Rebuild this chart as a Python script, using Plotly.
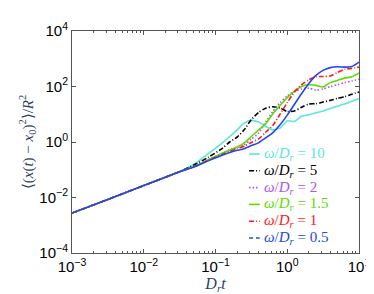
import plotly.graph_objects as go

# time grid (D_r t)
t = [0.001, 0.00316, 0.01, 0.0316, 0.0501, 0.0794, 0.126, 0.158, 0.2, 0.251,
     0.316, 0.398, 0.501, 0.631, 0.794, 1.0, 1.26, 1.58, 2.0, 2.51,
     3.16, 3.98, 5.01, 6.31, 7.94, 10.0]

msd_w10 = [0.00275, 0.00851, 0.0269, 0.0851, 0.158, 0.380, 0.955, 1.58, 2.75, 4.79,
           6.03, 5.25, 3.63, 2.75, 3.16, 5.75, 5.50, 8.51, 9.55, 11.2,
           13.2, 16.2, 19.5, 23.4, 29.5, 36.7]
msd_w5 = [0.00275, 0.00851, 0.0269, 0.0851, 0.148, 0.282, 0.603, 1.0, 1.51, 2.75,
          6.46, 11.5, 16.6, 18.6, 16.6, 12.6, 13.2, 17.8, 23.4, 24.0,
          27.5, 31.6, 37.2, 42.7, 52.5, 63.1]
msd_w2 = [0.00275, 0.00851, 0.0269, 0.0851, 0.132, 0.229, 0.398, 0.525, 0.631, 0.794,
          1.26, 2.09, 5.25, 12.6, 26.3, 45.7, 66.1, 81.3, 87.1, 74.1,
          81.3, 100, 117, 138, 158, 182]
msd_w15 = [0.00275, 0.00851, 0.0269, 0.0851, 0.132, 0.229, 0.398, 0.513, 0.661, 0.912,
           1.58, 2.69, 4.57, 10.5, 20.9, 39.8, 67.6, 100, 115, 110,
           95.5, 138, 166, 200, 224, 309]
msd_w1 = [0.00275, 0.00851, 0.0269, 0.0851, 0.129, 0.219, 0.363, 0.457, 0.575, 0.708,
          0.955, 1.29, 2.24, 3.98, 10.0, 26.3, 63.1, 115, 174, 224,
          229, 240, 324, 417, 447, 501]
msd_w05 = [0.00275, 0.00851, 0.0269, 0.0851, 0.126, 0.209, 0.339, 0.417, 0.501, 0.575,
           0.741, 0.933, 1.41, 2.19, 4.17, 9.33, 22.9, 55.0, 129, 251,
           380, 479, 513, 501, 525, 759]

labels = ["10", "5", "2", "1.5", "1", "0.5"]
colors = ["#5EE6D6", "#000000", "#B050F5", "#5EDC00", "#FF1A1A", "#2346F0"]
dashes = ["solid", "5px,2px,1px,2px", "1.5px,2px", "solid", "5px,2px,1px,2px", "4px,3px"]
series = [msd_w10, msd_w5, msd_w2, msd_w15, msd_w1, msd_w05]

xticks = [1e-3, 1e-2, 1e-1, 1, 10]
xticktext = ["10<sup>−3</sup>", "10<sup>−2</sup>", "10<sup>−1</sup>", "10<sup>0</sup>", "10<sup>1</sup>"]
yticks = [1e-4, 1e-2, 1, 1e2, 1e4]
yticktext = ["10<sup>−4</sup>", "10<sup>−2</sup>", "10<sup>0</sup>", "10<sup>2</sup>", "10<sup>4</sup>"]

fig = go.Figure()
for lab, col, dsh, y in zip(labels, colors, dashes, series):
    curve_dash = "solid" if lab == "0.5" else dsh
    fig.add_trace(go.Scatter(x=t, y=y, mode="lines", showlegend=False,
                             name=f"ω/Dr = {lab}",
                             line=dict(color=col, width=1.6, dash=curve_dash, shape="spline", smoothing=0.6)))

# legend drawn as key lines + coloured labels (paper coordinates)
leg_top, leg_step = 0.446, 0.0757
for i, (lab, col, dsh) in enumerate(zip(labels, colors, dashes)):
    yy = leg_top - i * leg_step
    fig.add_shape(type="line", xref="paper", yref="paper", x0=0.617, x1=0.654, y0=yy, y1=yy,
                  line=dict(color=col, width=1.6, dash=dsh))
    fig.add_annotation(xref="paper", yref="paper", x=0.662, y=yy, xanchor="left", yanchor="middle",
                       showarrow=False,
                       text=f"<i>ω</i>/<i>D<sub>r</sub></i> = {lab}",
                       font=dict(family="Liberation Serif", size=15, color=col))

minor_x = [k * 10.0 ** e for e in range(-3, 1) for k in range(2, 10)]

axis_common = dict(showline=True, linecolor="#555", linewidth=1, mirror="allticks",
                   ticks="inside", ticklen=4, tickcolor="#555", showgrid=False, zeroline=False,
                   tickfont=dict(family="Liberation Sans, Arial", size=15, color="black"))

fig.update_xaxes(type="log", range=[-3, 1], tickmode="array", tickvals=xticks, ticktext=xticktext,
                 minor=dict(ticks="inside", ticklen=2, tickcolor="#555", tickmode="array", tickvals=minor_x),
                 title=dict(text="<i>D<sub>r</sub>t</i>", font=dict(family="Liberation Serif", size=16), standoff=2),
                 **axis_common)
fig.update_yaxes(type="log", range=[-4, 4], tickmode="array", tickvals=yticks, ticktext=yticktext,
                 title=dict(text="⟨(<i>x</i>(<i>t</i>) − <i>x</i><sub>0</sub>)<sup>2</sup>⟩/<i>R</i><sup>2</sup>",
                            font=dict(family="Liberation Serif", size=15), standoff=2),
                 **axis_common)

fig.update_layout(width=374, height=294, margin=dict(l=64, r=15, t=15, b=49),
                  plot_bgcolor="white", paper_bgcolor="white", showlegend=False)
fig.write_html("out.html")
